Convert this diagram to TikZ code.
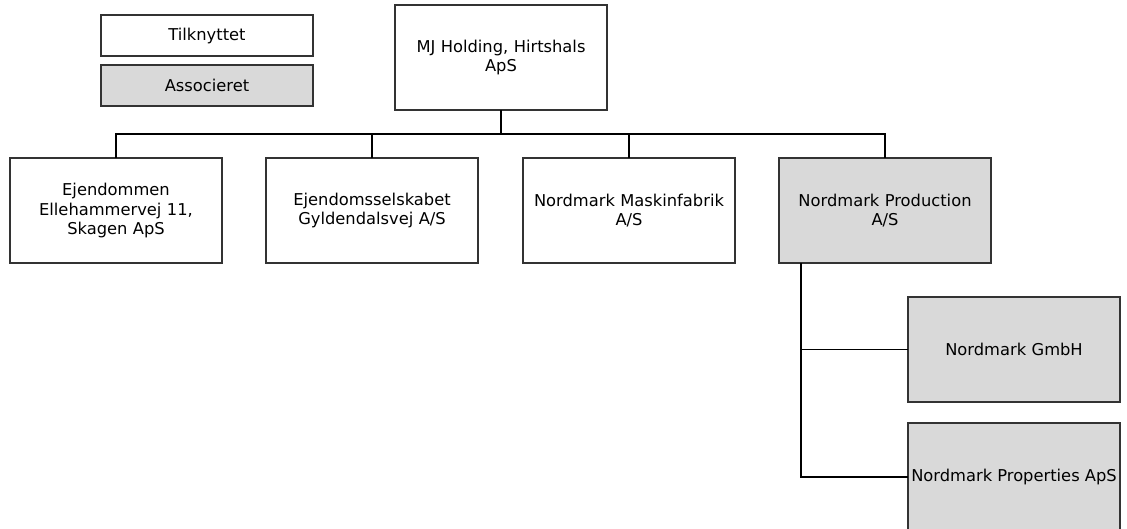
\documentclass[tikz,border=0pt]{standalone}
\usepackage{fontspec}
\setmainfont{DejaVu Sans}
\definecolor{assoc}{HTML}{D9D9D9}
\definecolor{edge}{HTML}{333333}
\tikzset{
  org/.style={draw=edge, line width=1.2pt, fill=white, minimum width=212pt, minimum height=105pt,
    inner sep=0pt, outer sep=0pt, anchor=north west, align=center, text width=205pt,
    font=\fontsize{16.3}{19.5}\selectfont},
  legendbox/.style={org, minimum height=41pt},
  grayfill/.style={fill=assoc},
  link/.style={draw=black, line width=1.2pt}
}
\begin{document}
\begin{tikzpicture}[x=1pt,y=-1pt]
\clip (0,0) rectangle (1127,528);
\fill[white] (0,0) rectangle (1127,528);
\node[legendbox] (tilk) at (101,15) {Tilknyttet};
\node[legendbox, grayfill] (assc) at (101,65) {Associeret};
\node[org] (mj) at (395,5) {MJ Holding, Hirtshals\\ApS};
\node[org] (e1) at (10,158) {Ejendommen\\Ellehammervej 11,\\Skagen ApS};
\node[org] (e2) at (266,158) {Ejendomsselskabet\\Gyldendalsvej A/S};
\node[org] (e3) at (523,158) {Nordmark Maskinfabrik\\A/S};
\node[org, grayfill] (e4) at (779,158) {Nordmark Production\\A/S};
\node[org, grayfill] (gmbh) at (908,297) {Nordmark GmbH};
\node[org, grayfill, minimum height=108pt, text width=] (props) at (908,423) {Nordmark Properties ApS};
\coordinate (bus) at (501,134);
\draw[link] (mj.south) -- (mj.south |- bus);
\draw[link] (e1.north) -- ++(0,-24) -| (e4.north);
\draw[link] (e2.north) -- (e2.north |- bus);
\draw[link] (e3.north) -- (e3.north |- bus);
\coordinate (pv) at ([xshift=22pt]e4.south west);
\draw[link] (pv) |- (props.west);
\draw[link] (pv |- gmbh.west) -- (gmbh.west);
\end{tikzpicture}
\end{document}
